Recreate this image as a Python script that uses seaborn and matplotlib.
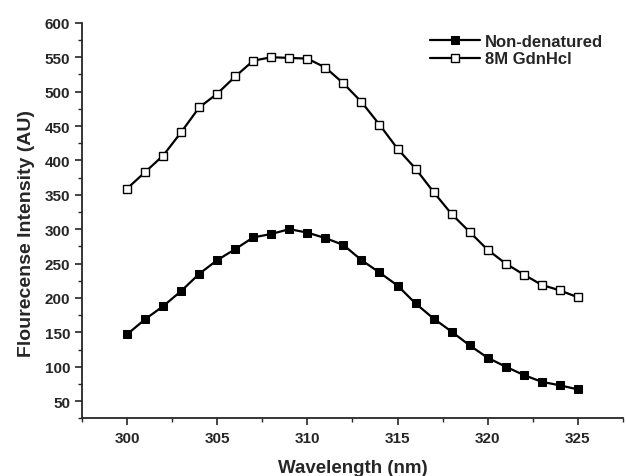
import pandas as pd
import matplotlib.pyplot as plt
import seaborn as sns
from matplotlib.ticker import MultipleLocator

wavelength = list(range(300, 326))
non_denatured = [147, 169, 188, 210, 235, 255, 271, 288, 293, 300, 295,
                 287, 277, 255, 237, 218, 192, 170, 151, 131, 113, 100,
                 88, 78, 73, 67]
gdnhcl = [359, 383, 407, 441, 477, 497, 522, 545, 550, 549, 548,
          535, 512, 485, 452, 417, 388, 354, 322, 296, 270, 250,
          234, 219, 211, 201]

df = pd.DataFrame({
    'Wavelength': wavelength,
    'Non-denatured': non_denatured,
    '8M GdnHcl': gdnhcl,
})

sns.set_style("ticks")
plt.rcParams['font.family'] = ['Liberation Sans', 'DejaVu Sans']
plt.rcParams['font.weight'] = 'bold'

fig = plt.figure(figsize=(6.26, 4.77), dpi=100)
ax = fig.add_axes([0.131, 0.121, 0.864, 0.829])

sns.lineplot(data=df, x='Wavelength', y='Non-denatured', ax=ax, color='black',
             marker='s', markersize=5.8, markerfacecolor='black',
             markeredgecolor='black', linewidth=1.6, label='Non-denatured')
sns.lineplot(data=df, x='Wavelength', y='8M GdnHcl', ax=ax, color='black',
             marker='s', markersize=5.8, markerfacecolor='white',
             markeredgecolor='black', markeredgewidth=1.0, linewidth=1.6,
             label='8M GdnHcl')

ax.set_xlim(297.5, 327.5)
ax.set_ylim(25, 600)
ax.xaxis.set_major_locator(MultipleLocator(5))
ax.xaxis.set_minor_locator(MultipleLocator(2.5))
ax.yaxis.set_minor_locator(MultipleLocator(25))
ax.set_yticks([50, 100, 150, 200, 250, 300, 350, 400, 450, 500, 550, 600])
ax.tick_params(axis='both', which='major', length=5, width=1.2,
               labelsize=11, direction='out')
ax.tick_params(axis='x', which='major', pad=4.5)
ax.tick_params(axis='y', which='major', pad=3.5)
ax.tick_params(axis='both', which='minor', length=3, width=1.0, direction='out')

sns.despine(ax=ax)
for sp in ['left', 'bottom']:
    ax.spines[sp].set_linewidth(1.3)

ax.set_xlabel('Wavelength (nm)', fontsize=13.5, fontweight='bold')
ax.set_ylabel('Flourecense Intensity (AU)', fontsize=14, fontweight='bold')
ax.xaxis.set_label_coords(0.5, -0.104)
ax.yaxis.set_label_coords(-0.087, 0.471)

ax.legend(loc='upper left', bbox_to_anchor=(0.644, 0.972), frameon=False,
          borderpad=0, borderaxespad=0, handlelength=3.0, handletextpad=0.3,
          labelspacing=0.15, prop={'weight': 'bold', 'size': 12})

fig.savefig('out.png', dpi=100)
